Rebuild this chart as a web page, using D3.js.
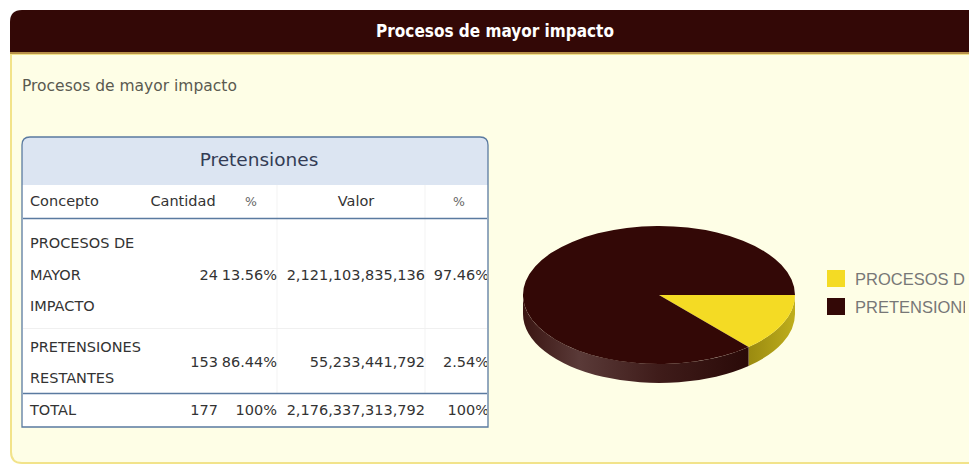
<!DOCTYPE html>
<html>
<head>
<meta charset="utf-8">
<script src="https://cdn.jsdelivr.net/npm/d3@7"></script>
<style>
  html, body { margin: 0; padding: 0; background: #ffffff; overflow: hidden; }
  svg { display: block; }
</style>
</head>
<body>
<svg id="chart" width="969" height="464"></svg>
<script>
// ---- Data ----
const panelTitle = "Procesos de mayor impacto";
const subtitle = "Procesos de mayor impacto";
const tableTitle = "Pretensiones";
const columnHeaders = ["Concepto", "Cantidad", "%", "Valor", "%"];
const categories = ["PROCESOS DE MAYOR IMPACTO", "PRETENSIONES RESTANTES"];
const categoryLines = [["PROCESOS DE", "MAYOR", "IMPACTO"], ["PRETENSIONES", "RESTANTES"]];
const cantidad = [24, 153];
const cantidadPct = ["13.56%", "86.44%"];
const valor = [2121103835136, 55233441792];
const valorPct = ["97.46%", "2.54%"];
const totalRow = ["TOTAL", 177, "100%", 2176337313792, "100%"];
const legendLabels = ["PROCESOS DE MAYOR IMPACTO", "PRETENSIONES RESTANTES"];
const sliceColors = ["#f4db24", "#330806"];

const svg = d3.select("#chart");
const defs = svg.append("defs");
const fmt = d3.format(",.0f");

// ---- Panel ----
const W = 969;
svg.append("path")
  .attr("d", `M11,54 L${W+5},54 L${W+5},463 L22,463 Q11,463 11,452 Z`)
  .attr("fill", "#fefee6").attr("stroke", "#f2e38a").attr("stroke-width", 2);
svg.append("path")
  .attr("d", `M10,53 L10,22 Q10,10 22,10 L${W+5},10 L${W+5},53 Z`)
  .attr("fill", "#330806");
svg.append("rect").attr("x", 10).attr("y", 52).attr("width", W).attr("height", 2).attr("fill", "#b8904a");
svg.append("text").attr("x", 495).attr("y", 37).attr("text-anchor", "middle")
  .attr("font-family", "'DejaVu Sans Condensed', 'DejaVu Sans', sans-serif")
  .attr("font-weight", "bold").attr("font-size", 17).attr("fill", "#ffffff")
  .text(panelTitle);
svg.append("text").attr("x", 22).attr("y", 91)
  .attr("font-family", "'DejaVu Sans', sans-serif").attr("font-size", 15.5).attr("fill", "#5a5a50")
  .text(subtitle);

// ---- Table ----
const T = { x: 22, y: 137, w: 466, h: 290 };
const tf = "'DejaVu Sans', sans-serif";
const tfs = 14.5;
defs.append("clipPath").attr("id", "tclip").append("rect")
  .attr("x", T.x + 1).attr("y", T.y).attr("width", T.w - 2).attr("height", T.h);
const tablePath = `M${T.x},${T.y + T.h} L${T.x},${T.y + 8} Q${T.x},${T.y} ${T.x + 8},${T.y} L${T.x + T.w - 8},${T.y} Q${T.x + T.w},${T.y} ${T.x + T.w},${T.y + 8} L${T.x + T.w},${T.y + T.h} Z`;
svg.append("path").attr("d", tablePath).attr("fill", "#ffffff");
svg.append("path")
  .attr("d", `M${T.x},185 L${T.x},${T.y + 8} Q${T.x},${T.y} ${T.x + 8},${T.y} L${T.x + T.w - 8},${T.y} Q${T.x + T.w},${T.y} ${T.x + T.w},${T.y + 8} L${T.x + T.w},185 Z`)
  .attr("fill", "#dce5f2");
svg.append("text").attr("x", 259).attr("y", 166).attr("text-anchor", "middle")
  .attr("font-family", tf).attr("font-size", 18.5).attr("fill", "#333c55").text(tableTitle);

const tg = svg.append("g").attr("clip-path", "url(#tclip)");
[277, 425].forEach(x => tg.append("line").attr("x1", x).attr("x2", x).attr("y1", 185).attr("y2", 393).attr("stroke", "#f3f3f3"));
tg.append("line").attr("x1", T.x).attr("x2", T.x + T.w).attr("y1", 328.5).attr("y2", 328.5).attr("stroke", "#f0f0f0");
[218.5, 393.5].forEach(y => tg.append("line").attr("x1", T.x).attr("x2", T.x + T.w).attr("y1", y).attr("y2", y).attr("stroke", "#5a7aa0").attr("stroke-width", 1.3));

const hdrPos = [[30, "start"], [183, "middle"], [251, "middle"], [356, "middle"], [459, "middle"]];
columnHeaders.forEach((h, i) => {
  tg.append("text").attr("x", hdrPos[i][0]).attr("y", 206).attr("text-anchor", hdrPos[i][1])
    .attr("font-family", tf).attr("font-size", i === 2 || i === 4 ? 12.5 : tfs)
    .attr("fill", i === 2 || i === 4 ? "#666" : "#333").text(h);
});

const colRight = [218, 277, 425, 489];
const rowValueY = [280, 367];
const rowLineY = [[248, 280, 311], [352, 383]];
categories.forEach((c, r) => {
  categoryLines[r].forEach((ln, k) => {
    tg.append("text").attr("x", 30).attr("y", rowLineY[r][k]).attr("font-family", tf)
      .attr("font-size", tfs).attr("fill", "#333").text(ln);
  });
  const vals = [cantidad[r], cantidadPct[r], fmt(valor[r]), valorPct[r]];
  vals.forEach((v, i) => {
    tg.append("text").attr("x", colRight[i]).attr("y", rowValueY[r]).attr("text-anchor", "end")
      .attr("font-family", tf).attr("font-size", tfs).attr("fill", "#333").text(v);
  });
});
tg.append("text").attr("x", 30).attr("y", 415).attr("font-family", tf).attr("font-size", tfs).attr("fill", "#333").text(totalRow[0]);
[totalRow[1], totalRow[2], fmt(totalRow[3]), totalRow[4]].forEach((v, i) => {
  tg.append("text").attr("x", colRight[i]).attr("y", 415).attr("text-anchor", "end")
    .attr("font-family", tf).attr("font-size", tfs).attr("fill", "#333").text(v);
});
svg.append("path").attr("d", tablePath).attr("fill", "none").attr("stroke", "#5a7aa0").attr("stroke-width", 1.3);

// ---- 3D Pie ----
const P = { cx: 659, cy: 295, rx: 136, ry: 69, d: 19 };
const pie = d3.pie().sort(null).startAngle(Math.PI / 2).endAngle(Math.PI / 2 + 2 * Math.PI);
const arcs = pie(cantidad);
const th = a => a - Math.PI / 2;
const ex = t => P.cx + P.rx * Math.cos(t);
const ey = t => P.cy + P.ry * Math.sin(t);

const gDark = defs.append("linearGradient").attr("id", "sideDark").attr("x1", 0).attr("x2", 1).attr("y1", 0).attr("y2", 0);
gDark.append("stop").attr("offset", "0%").attr("stop-color", "#3a1512");
gDark.append("stop").attr("offset", "25%").attr("stop-color", "#5a3a38");
gDark.append("stop").attr("offset", "60%").attr("stop-color", "#3f1c1a");
gDark.append("stop").attr("offset", "100%").attr("stop-color", "#2a0a08");
const gYel = defs.append("linearGradient").attr("id", "sideYel").attr("x1", 0).attr("x2", 1).attr("y1", 0).attr("y2", 0);
gYel.append("stop").attr("offset", "0%").attr("stop-color", "#9a8a10");
gYel.append("stop").attr("offset", "100%").attr("stop-color", "#bfae1c");
const sideFill = ["url(#sideYel)", "url(#sideDark)"];

const pg = svg.append("g");
arcs.forEach((a, i) => {
  const t0 = th(a.startAngle), t1 = th(a.endAngle);
  [[0, Math.PI], [2 * Math.PI, 3 * Math.PI]].forEach(([lo, hi]) => {
    const s = Math.max(t0, lo), e = Math.min(t1, hi);
    if (e > s) {
      const p = `M${ex(s)},${ey(s)} A${P.rx},${P.ry} 0 0 1 ${ex(e)},${ey(e)} L${ex(e)},${ey(e) + P.d} A${P.rx},${P.ry} 0 0 0 ${ex(s)},${ey(s) + P.d} Z`;
      pg.append("path").attr("d", p).attr("fill", sideFill[i]);
    }
  });
});
arcs.forEach((a, i) => {
  const s = th(a.startAngle), e = th(a.endAngle);
  const large = (e - s) > Math.PI ? 1 : 0;
  const p = `M${P.cx},${P.cy} L${ex(s)},${ey(s)} A${P.rx},${P.ry} 0 ${large} 1 ${ex(e)},${ey(e)} Z`;
  pg.append("path").attr("d", p).attr("fill", sliceColors[i]);
});

// ---- Legend ----
defs.append("clipPath").attr("id", "lclip").append("rect")
  .attr("x", 800).attr("y", 250).attr("width", 165).attr("height", 80);
const lg = svg.append("g").attr("clip-path", "url(#lclip)");
legendLabels.forEach((l, i) => {
  const y = 270 + i * 28;
  lg.append("rect").attr("x", 827).attr("y", y).attr("width", 18).attr("height", 17).attr("fill", sliceColors[i]);
  lg.append("text").attr("x", 855).attr("y", y + 14.5)
    .attr("font-family", "'Liberation Sans', Arial, sans-serif").attr("font-size", 16.5).attr("fill", "#777777").text(l);
});
</script>
</body>
</html>
